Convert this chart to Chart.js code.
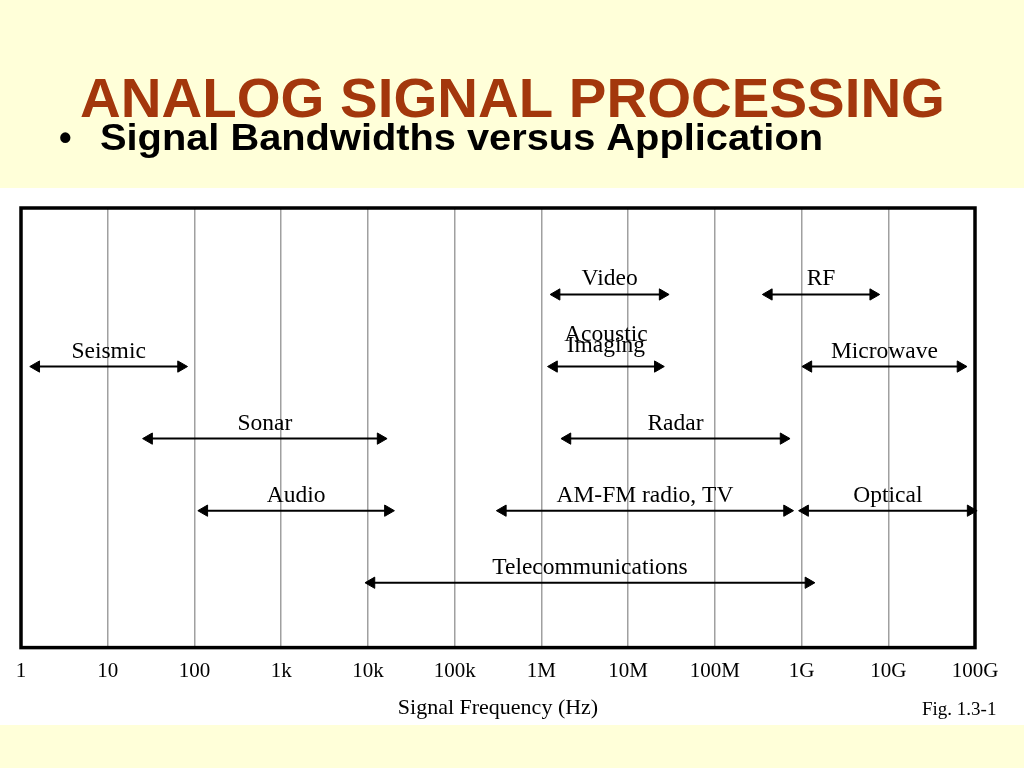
<!DOCTYPE html>
<html>
<head>
<meta charset="utf-8">
<script src="https://cdn.jsdelivr.net/npm/chart.js@4.4.0/dist/chart.umd.min.js"></script>
<style>
    html, body { margin: 0; padding: 0; background: #FFFFD9; }
    #contenedor { width: 1024px; height: 768px; position: relative; }
</style>
</head>
<body>
<div id="contenedor"><canvas id="grafico" width="1024" height="768"></canvas></div>
<script>
// Datos
const aplicaciones = ['Video', 'RF', 'Seismic', 'Acoustic\nImaging', 'Microwave', 'Sonar', 'Radar', 'Audio', 'AM-FM radio, TV', 'Optical', 'Telecommunications'];
const filas = [1, 1, 2, 2, 2, 3, 3, 4, 4, 4, 5];
const frecMin = [1.5e6, 4.2e8, 1.5, 1.4e6, 1.2e9, 30, 2e6, 130, 3.6e5, 1.1e9, 1.1e4];
const frecMax = [2.5e7, 6.7e9, 70, 2.2e7, 6.8e10, 1.4e4, 6.2e8, 1.7e4, 6.8e8, 8.9e10, 1.2e9];
const decadas = [1, 10, 100, 1e3, 1e4, 1e5, 1e6, 1e7, 1e8, 1e9, 1e10, 1e11];
const etiquetasEje = ['1', '10', '100', '1k', '10k', '100k', '1M', '10M', '100M', '1G', '10G', '100G'];

const SERIF = '"Liberation Serif", "DejaVu Serif", serif';
const SANS = '"Liberation Sans", Arial, sans-serif';

// Texto ajustado a un ancho dado (la diapositiva original esta algo estirada)
function textoAjustado(ctx, texto, x, y, ancho) {
    const w = ctx.measureText(texto).width;
    ctx.save();
    ctx.translate(x, y);
    ctx.scale(ancho / w, 1);
    ctx.fillText(texto, 0, 0);
    ctx.restore();
}

const fondoDiapositiva = {
    id: 'fondoDiapositiva',
    beforeDraw(chart) {
        const ctx = chart.ctx;
        ctx.save();
        ctx.fillStyle = '#FFFFD9';
        ctx.fillRect(0, 0, chart.width, chart.height);
        ctx.fillStyle = '#FFFFFF';
        ctx.fillRect(0, 188, chart.width, 537);

        ctx.textAlign = 'left';
        ctx.textBaseline = 'alphabetic';
        ctx.fillStyle = '#A3370C';
        ctx.font = 'bold 56px ' + SANS;
        textoAjustado(ctx, 'ANALOG SIGNAL PROCESSING', 80, 117, 865);

        ctx.fillStyle = '#000000';
        ctx.font = 'bold 36px ' + SANS;
        ctx.fillText('\u2022', 59, 150);
        textoAjustado(ctx, 'Signal Bandwidths versus Application', 100, 150, 723);
        ctx.restore();
    }
};

const marcoYEtiquetas = {
    id: 'marcoYEtiquetas',
    afterDatasetsDraw(chart) {
        const ctx = chart.ctx;
        const area = chart.chartArea;
        const x = chart.scales.x;
        const y = chart.scales.y;
        ctx.save();
        ctx.strokeStyle = '#000000';
        ctx.lineWidth = 3.5;
        ctx.strokeRect(area.left, area.top, area.right - area.left, area.bottom - area.top);

        ctx.fillStyle = '#000000';
        ctx.font = '23.5px ' + SERIF;
        ctx.textAlign = 'center';
        ctx.textBaseline = 'alphabetic';
        aplicaciones.forEach((nombre, i) => {
            const px = x.getPixelForValue(Math.sqrt(frecMin[i] * frecMax[i]));
            const py = y.getPixelForValue(filas[i]);
            const lineas = nombre.split('\n');
            let base = py - (lineas.length > 1 ? 15 : 9);
            for (let k = lineas.length - 1; k >= 0; k--) {
                ctx.fillText(lineas[k], px, base);
                base -= 11;
            }
        });

        ctx.font = '19px ' + SERIF;
        ctx.textAlign = 'left';
        ctx.fillText('Fig. 1.3-1', 922, 715);
        ctx.restore();
    }
};

const datasets = aplicaciones.map((nombre, i) => ({
    label: nombre,
    data: [{ x: frecMin[i], y: filas[i] }, { x: frecMax[i], y: filas[i] }],
    showLine: true,
    borderColor: '#000000',
    backgroundColor: '#000000',
    borderWidth: 2,
    pointStyle: 'triangle',
    pointRadius: 6.5,
    pointBorderWidth: 1,
    pointRotation: ctx => ctx.dataIndex === 0 ? -90 : 90,
    clip: false
}));

new Chart(document.getElementById('grafico').getContext('2d'), {
    type: 'scatter',
    data: { datasets: datasets },
    options: {
        responsive: false,
        animation: false,
        layout: { padding: { top: 208, left: 21, right: 49, bottom: 47 } },
        plugins: {
            legend: { display: false },
            tooltip: { enabled: false }
        },
        scales: {
            x: {
                type: 'logarithmic',
                min: 1,
                max: 1e11,
                afterBuildTicks: scale => {
                    scale.ticks = decadas.map(v => ({ value: v }));
                },
                ticks: {
                    autoSkip: false,
                    maxRotation: 0,
                    padding: 13,
                    color: '#000000',
                    font: { family: SERIF, size: 21, lineHeight: 1 },
                    callback: value => etiquetasEje[Math.round(Math.log10(value))]
                },
                grid: { color: '#A0A0A0', lineWidth: 1.5, drawTicks: false },
                border: { display: false },
                title: {
                    display: true,
                    text: 'Signal Frequency (Hz)',
                    color: '#000000',
                    font: { family: SERIF, size: 22 },
                    padding: { top: 0, bottom: 0 }
                }
            },
            y: {
                type: 'linear',
                min: -0.2,
                max: 5.9,
                reverse: true,
                display: false
            }
        }
    },
    plugins: [fondoDiapositiva, marcoYEtiquetas]
});
</script>
</body>
</html>
